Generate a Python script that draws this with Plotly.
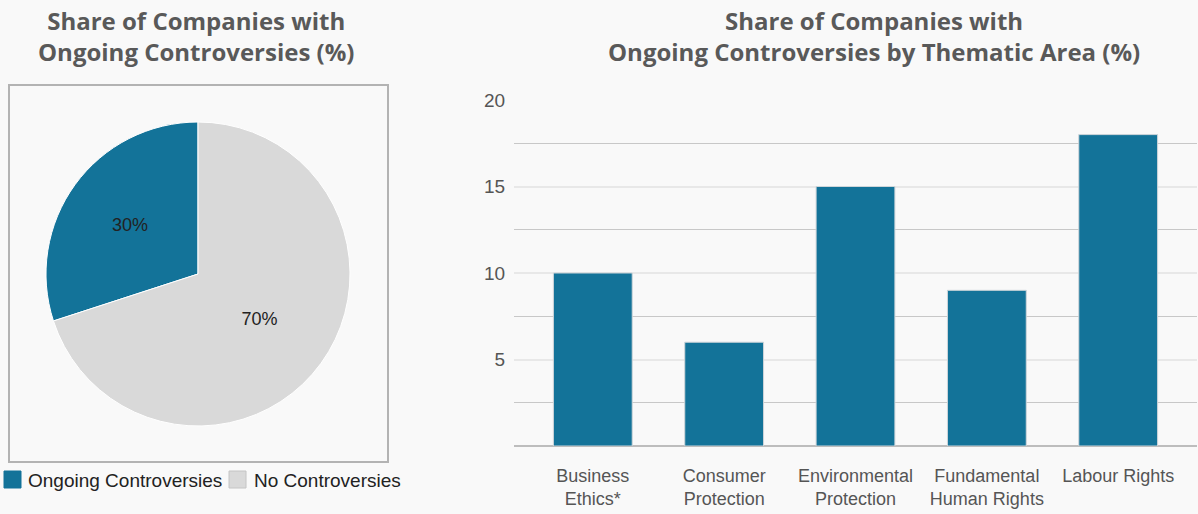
import plotly.graph_objects as go

W, H = 1198, 514

pie_labels = ["Ongoing Controversies", "No Controversies"]
pie_values = [30, 70]
pie_colors = ["#137399", "#d9d9d9"]

bar_categories = ["Business<br>Ethics*", "Consumer<br>Protection", "Environmental<br>Protection",
                  "Fundamental<br>Human Rights", "Labour Rights"]
bar_values = [10, 6, 15, 9, 18]
y_ticks = [5, 10, 15, 20]

title_left = "Share of Companies with<br>Ongoing Controversies (%)"
title_right = "Share of Companies with<br>Ongoing Controversies by Thematic Area (%)"

FONT = "Liberation Sans, Arial, Helvetica"


def px_x(x):
    return x / W


def px_y(y):
    return 1 - y / H


fig = go.Figure()

fig.add_trace(go.Pie(
    labels=pie_labels, values=pie_values, sort=False, direction="clockwise",
    rotation=-108,
    marker=dict(colors=pie_colors, line=dict(color="#ffffff", width=1)),
    textinfo="percent", textposition="inside", insidetextorientation="horizontal",
    textfont=dict(family=FONT, size=18, color="#222222"),
    domain=dict(x=[px_x(46), px_x(350)], y=[px_y(426), px_y(122)]),
    hoverinfo="label+percent", showlegend=False,
))

fig.add_trace(go.Bar(
    x=bar_categories, y=bar_values, width=0.6,
    marker=dict(color="#137399", line=dict(color="#cfd6da", width=1)),
    showlegend=False, xaxis="x", yaxis="y",
))

# custom legend for the pie (square swatches + labels)
legend_x = [4, 229]
legend_text_x = [27, 253]
shapes = [dict(type="rect", xref="paper", yref="paper",
               x0=px_x(9), x1=px_x(388), y0=px_y(462), y1=px_y(85),
               line=dict(color="#b3b3b3", width=2), fillcolor="rgba(0,0,0,0)", layer="below")]
annotations = []
for i, (lab, col) in enumerate(zip(pie_labels, pie_colors)):
    shapes.append(dict(type="rect", xref="paper", yref="paper",
                       x0=px_x(legend_x[i]), x1=px_x(legend_x[i] + 17),
                       y0=px_y(488), y1=px_y(471),
                       line=dict(color="#c4c4c4" if i else col, width=1), fillcolor=col))
    annotations.append(dict(text=lab, xref="paper", yref="paper",
                            x=px_x(legend_text_x[i]), y=px_y(480), xanchor="left", yanchor="middle",
                            showarrow=False, borderpad=0,
                            font=dict(family=FONT, size=19, color="#222222")))

annotations += [
    dict(text="<b>" + title_left + "</b>", xref="paper", yref="paper",
         x=px_x(196), y=px_y(36), xanchor="center", yanchor="middle", showarrow=False,
         font=dict(family="Open Sans", size=24, color="#595959")),
    dict(text="<b>" + title_right + "</b>", xref="paper", yref="paper",
         x=px_x(874), y=px_y(36), xanchor="center", yanchor="middle", showarrow=False,
         font=dict(family="Open Sans", size=24, color="#595959")),
]

fig.update_layout(
    width=W, height=H,
    margin=dict(l=0, r=0, t=0, b=0, autoexpand=False),
    paper_bgcolor="#f9f9f9", plot_bgcolor="#f9f9f9",
    font=dict(family=FONT, size=18, color="#555555"),
    showlegend=False,
    xaxis=dict(domain=[px_x(514), px_x(1197)], range=[-0.6, 4.6], showgrid=False,
               showline=False, zeroline=False, ticks="", ticklabelstandoff=17,
               tickfont=dict(family=FONT, size=18, color="#555555")),
    yaxis=dict(domain=[px_y(446), px_y(100)], range=[0, 20], tickvals=y_ticks,
               showgrid=True, gridcolor="#e8e8e8", gridwidth=2,
               zeroline=True, zerolinecolor="#bdbdbd", zerolinewidth=2,
               showline=False, ticks="outside", ticklen=4, tickcolor="rgba(0,0,0,0)",
               tickfont=dict(family=FONT, size=19, color="#555555"),
               minor=dict(dtick=2.5, showgrid=True, gridcolor="#c8c8c8", gridwidth=1)),
    shapes=shapes,
    annotations=annotations,
)

fig.write_html("out.html")
